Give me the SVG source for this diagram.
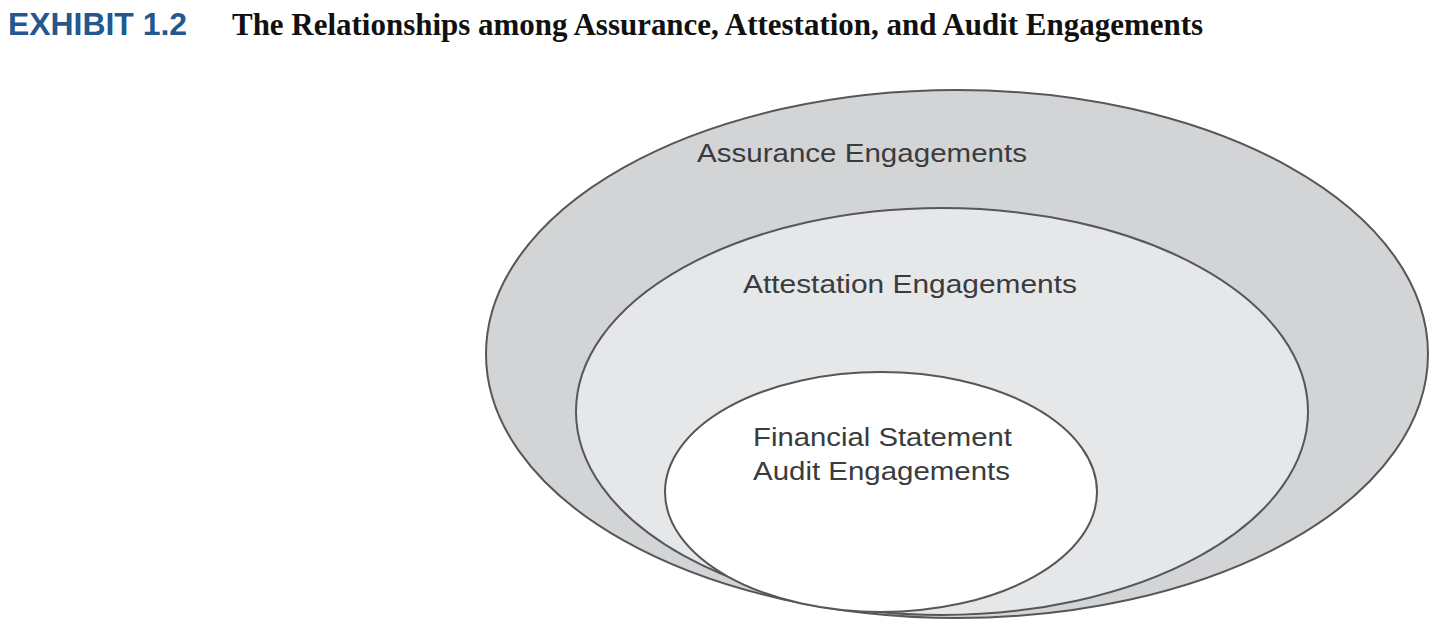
<svg xmlns="http://www.w3.org/2000/svg" width="1440" height="624" viewBox="0 0 1440 624">
  <style>
    .ring { stroke: #555759; stroke-width: 2; }
    .label { font-family: "Liberation Sans", Arial, sans-serif; font-size: 26px; fill: #3a3b3d; }
  </style>
  <rect width="1440" height="624" fill="#ffffff"/>
  <g id="title">
    <text x="8" y="35" font-family="Liberation Sans, Arial, sans-serif" font-weight="bold" font-size="32" fill="#23578e" textLength="179" lengthAdjust="spacingAndGlyphs">EXHIBIT 1.2</text>
    <text x="232" y="35" font-family="Liberation Serif, 'Times New Roman', serif" font-weight="bold" font-size="31" fill="#111111" textLength="971" lengthAdjust="spacingAndGlyphs">The Relationships among Assurance, Attestation, and Audit Engagements</text>
  </g>
  <g id="assurance">
    <ellipse class="ring" cx="957" cy="354" rx="471" ry="264" fill="#d3d4d6"/>
    <text class="label" x="697" y="162" textLength="330" lengthAdjust="spacingAndGlyphs">Assurance Engagements</text>
  </g>
  <g id="attestation">
    <ellipse class="ring" cx="942" cy="411.5" rx="366" ry="203.5" fill="#e6e7e9"/>
    <text class="label" x="743" y="293" textLength="334" lengthAdjust="spacingAndGlyphs">Attestation Engagements</text>
  </g>
  <g id="audit">
    <ellipse class="ring" cx="881" cy="492" rx="216" ry="120" fill="#ffffff"/>
    <text class="label" x="753" y="446" textLength="259" lengthAdjust="spacingAndGlyphs">Financial Statement</text>
    <text class="label" x="753" y="480" textLength="257" lengthAdjust="spacingAndGlyphs">Audit Engagements</text>
  </g>
  <g id="connectors"/>
</svg>
